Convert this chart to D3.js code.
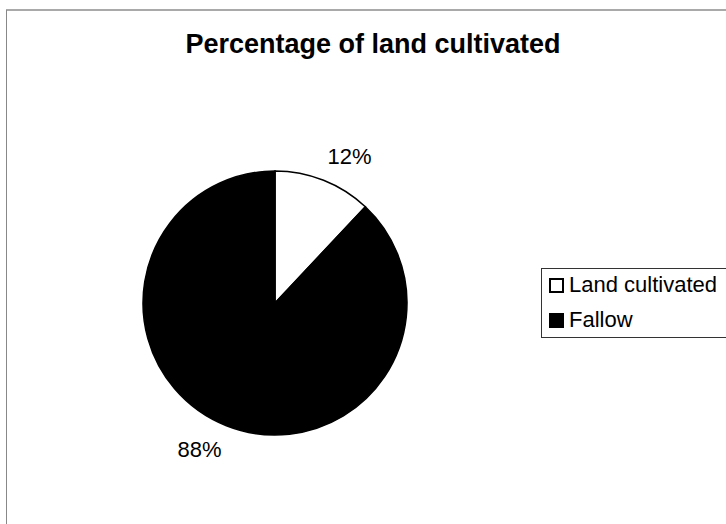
<!DOCTYPE html>
<html><head><meta charset="utf-8">
<script src="https://cdn.jsdelivr.net/npm/d3@7"></script>
<style>html,body{margin:0;padding:0;background:#fff;}</style>
</head><body>
<svg id="c" width="726" height="524"></svg>
<script>
const categories = ["Land cultivated", "Fallow"];
const values = [12, 88];
const labels = ["12%", "88%"];
const colors = ["#ffffff", "#000000"];

const svg = d3.select("#c");
const font = "'Liberation Sans', Arial, sans-serif";

// chart frame (top and left border visible)
svg.append("line").attr("x1", 6).attr("x2", 726).attr("y1", 10).attr("y2", 10).attr("stroke", "#555").attr("stroke-width", 1.2);
svg.append("line").attr("x1", 6.5).attr("x2", 6.5).attr("y1", 10).attr("y2", 524).attr("stroke", "#888").attr("stroke-width", 1);

svg.append("text").attr("x", 373).attr("y", 53).attr("text-anchor", "middle")
  .attr("font-family", font).attr("font-weight", "bold").attr("font-size", 27).attr("fill", "#000")
  .text("Percentage of land cultivated");

const cx = 275, cy = 303, r = 132;
const pie = d3.pie().sort(null).value(d => d)(values);
const arc = d3.arc().innerRadius(0).outerRadius(r);
const g = svg.append("g").attr("transform", `translate(${cx},${cy})`);
g.selectAll("path").data(pie).join("path").attr("d", arc)
  .attr("fill", (d, i) => colors[i]).attr("stroke", "#000").attr("stroke-width", 1.5);

const labelPos = [[349.5, 164], [199.5, 457]];
svg.selectAll("text.lbl").data(labels).join("text").attr("class", "lbl")
  .attr("x", (d, i) => labelPos[i][0]).attr("y", (d, i) => labelPos[i][1])
  .attr("text-anchor", "middle").attr("font-family", font).attr("font-size", 22).attr("fill", "#000")
  .text(d => d);

// legend
const lg = svg.append("g");
lg.append("rect").attr("x", 541.5).attr("y", 268.5).attr("width", 200).attr("height", 69)
  .attr("fill", "#fff").attr("stroke", "#333").attr("stroke-width", 1);
const items = lg.selectAll("g.it").data(categories).join("g").attr("class", "it")
  .attr("transform", (d, i) => `translate(549, ${292 + i * 35})`);
items.append("rect").attr("x", 1).attr("y", -13).attr("width", 13).attr("height", 13)
  .attr("fill", (d, i) => colors[i]).attr("stroke", "#000").attr("stroke-width", 2);
items.append("text").attr("x", 20).attr("y", 0).attr("font-family", font).attr("font-size", 22).attr("fill", "#000")
  .text(d => d);
</script>
</body></html>
